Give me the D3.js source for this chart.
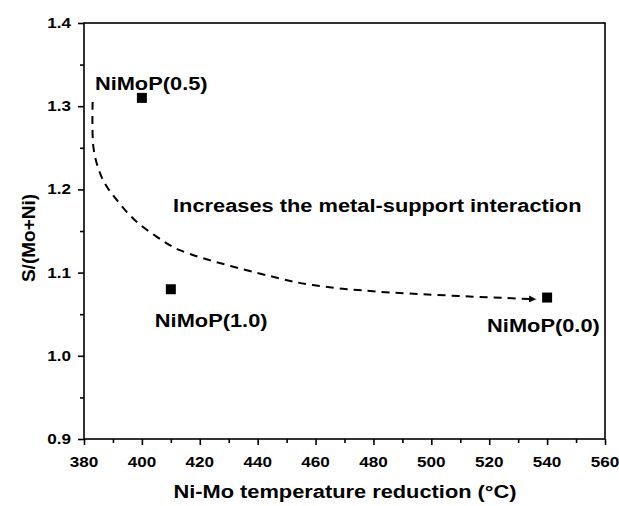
<!DOCTYPE html>
<html>
<head>
<meta charset="utf-8">
<script src="https://cdn.jsdelivr.net/npm/d3@7"></script>
<style>
  html, body { margin: 0; padding: 0; background: #fff; }
  text { font-family: "Liberation Sans", Arial, sans-serif; font-weight: bold; fill: #000; }
</style>
</head>
<body>
<svg id="chart" width="619" height="506"></svg>
<script>
// Samples: reduction temperature (°C) vs S/(Mo+Ni) ratio
const samples = ["NiMoP(0.5)", "NiMoP(1.0)", "NiMoP(0.0)"];
const temperature = [400, 410, 540];
const ratio = [1.31, 1.08, 1.07];

// Guide curve (trend arrow) through the plot
const trendX = [383.0, 383.4, 386.6, 391.4, 397.6, 405.2, 413.1, 447.6, 459.0, 482.1, 536.2];
const trendY = [1.305, 1.247, 1.211, 1.187, 1.163, 1.143, 1.127, 1.093, 1.085, 1.077, 1.068];

const xTicks = [380, 400, 420, 440, 460, 480, 500, 520, 540, 560];
const yTicks = [0.9, 1.0, 1.1, 1.2, 1.3, 1.4];
const xMinor = [390, 410, 430, 450, 470, 490, 510, 530, 550];
const yMinor = [0.95, 1.05, 1.15, 1.25, 1.35];

const annotation = "Increases the metal-support interaction";

// Horizontal stretch applied to upright text (wide bold face)
const SX = 1.18;

const svg = d3.select("#chart");
const m = { left: 84, right: 605, top: 23, bottom: 439 };

const x = d3.scaleLinear().domain([380, 560]).range([m.left, m.right]);
const y = d3.scaleLinear().domain([0.9, 1.4]).range([m.bottom, m.top]);

// Frame
svg.append("rect")
  .attr("x", m.left).attr("y", m.top)
  .attr("width", m.right - m.left).attr("height", m.bottom - m.top)
  .attr("fill", "none").attr("stroke", "#000").attr("stroke-width", 1.6);

// Axis tick marks (labels drawn separately below)
const groups = [
  svg.append("g").attr("transform", `translate(0,${m.bottom})`)
    .call(d3.axisBottom(x).tickValues(xTicks).tickFormat("").tickSize(6)),
  svg.append("g").attr("transform", `translate(0,${m.bottom})`)
    .call(d3.axisBottom(x).tickValues(xMinor).tickFormat("").tickSize(4)),
  svg.append("g").attr("transform", `translate(${m.left},0)`)
    .call(d3.axisLeft(y).tickValues(yTicks).tickFormat("").tickSize(6)),
  svg.append("g").attr("transform", `translate(${m.left},0)`)
    .call(d3.axisLeft(y).tickValues(yMinor).tickFormat("").tickSize(4))
];
groups.forEach(g => {
  g.select(".domain").remove();
  g.selectAll("line").attr("stroke", "#000").attr("stroke-width", 1.6);
});

// Tick labels
svg.selectAll("text.xt").data(xTicks).enter().append("text")
  .attr("class", "xt")
  .attr("transform", d => `translate(${x(d)},467) scale(${SX},1)`)
  .attr("text-anchor", "middle").style("font-size", "14.5px")
  .text(d3.format("d"));
svg.selectAll("text.yt").data(yTicks).enter().append("text")
  .attr("class", "yt")
  .attr("transform", d => `translate(71,${y(d) + 5}) scale(${SX},1)`)
  .attr("text-anchor", "end").style("font-size", "14.5px")
  .text(d3.format(".1f"));

// Axis titles
svg.append("text")
  .attr("transform", `translate(${(m.left + m.right) / 2 + 0.5},498) scale(${SX},1)`)
  .attr("text-anchor", "middle").style("font-size", "18.5px")
  .text("Ni-Mo temperature reduction (°C)");
svg.append("text")
  .attr("transform", `translate(35,238) rotate(-90)`)
  .attr("text-anchor", "middle").style("font-size", "19px")
  .text("S/(Mo+Ni)");

// Arrowhead marker
svg.append("defs").append("marker")
  .attr("id", "arrow").attr("viewBox", "0 0 10 10")
  .attr("refX", 10).attr("refY", 5)
  .attr("markerWidth", 10).attr("markerHeight", 7)
  .attr("markerUnits", "userSpaceOnUse")
  .attr("orient", "auto")
  .append("path").attr("d", "M0,0 L10,5 L0,10 Z").attr("fill", "#000");

// Dashed trend curve
const trend = trendX.map((d, i) => [d, trendY[i]]);
svg.append("path")
  .datum(trend)
  .attr("d", d3.line().x(d => x(d[0])).y(d => y(d[1])).curve(d3.curveCatmullRom.alpha(0.5)))
  .attr("fill", "none").attr("stroke", "#000").attr("stroke-width", 2)
  .attr("stroke-dasharray", "8,6")
  .attr("marker-end", "url(#arrow)");

// Data points
const pts = samples.map((s, i) => ({ s, t: temperature[i], r: ratio[i] }));
svg.selectAll("rect.pt").data(pts).enter().append("rect")
  .attr("class", "pt")
  .attr("x", d => x(d.t) - 5).attr("y", d => y(d.r) - 5)
  .attr("width", 10).attr("height", 10).attr("fill", "#000");

// Point labels
const labelOffset = { "NiMoP(0.5)": [-47, -8], "NiMoP(1.0)": [-16, 38], "NiMoP(0.0)": [-60, 34] };
svg.selectAll("text.lbl").data(pts).enter().append("text")
  .attr("class", "lbl")
  .attr("transform", d => `translate(${x(d.t) + labelOffset[d.s][0]},${y(d.r) + labelOffset[d.s][1]}) scale(${SX},1)`)
  .style("font-size", "18.5px")
  .text(d => d.s);

// Annotation
svg.append("text")
  .attr("transform", `translate(173,212) scale(${SX},1)`)
  .style("font-size", "18.5px")
  .text(annotation);
</script>
</body>
</html>
